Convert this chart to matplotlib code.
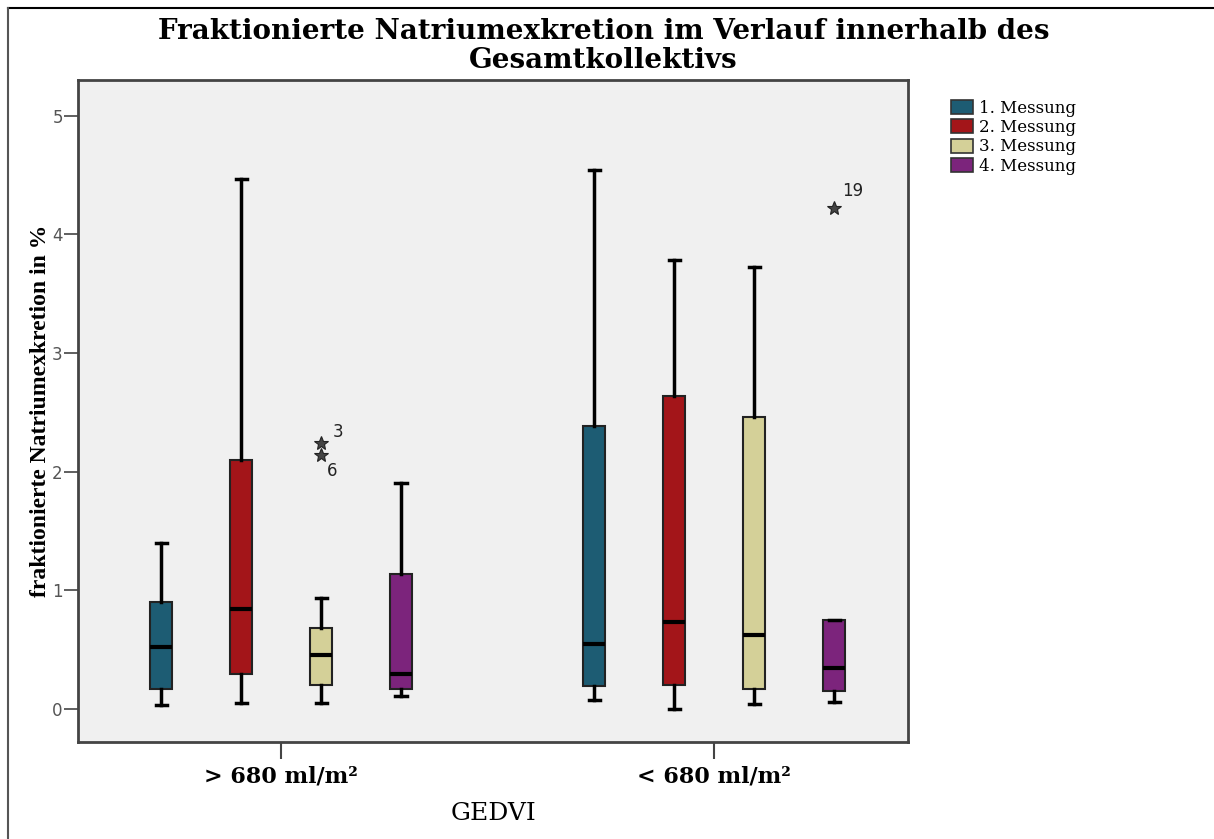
import matplotlib.pyplot as plt
from matplotlib.patches import Patch
from matplotlib.lines import Line2D

groups = ["> 680 ml/m²", "< 680 ml/m²"]
messungen = ["1. Messung", "2. Messung", "3. Messung", "4. Messung"]
colors = ["#1d5c73", "#a31519", "#d4d098", "#7c247c"]

# box statistics per group, one row per Messung: whislo, q1, med, q3, whishi
stats_gt = [
    [0.03, 0.17, 0.52, 0.90, 1.40],
    [0.05, 0.29, 0.84, 2.10, 4.47],
    [0.05, 0.20, 0.455, 0.68, 0.93],
    [0.11, 0.17, 0.29, 1.14, 1.90],
]
stats_lt = [
    [0.07, 0.19, 0.55, 2.38, 4.54],
    [0.00, 0.20, 0.73, 2.64, 3.78],
    [0.04, 0.17, 0.62, 2.46, 3.72],
    [0.06, 0.15, 0.34, 0.75, 0.75],
]
# extreme values with case numbers
outliers_gt = {2: [(2.24, "3"), (2.14, "6")]}
outliers_lt = {3: [(4.22, "19")]}

offsets = [-0.277, -0.0924, 0.0924, 0.277]
box_w = 0.051

fig = plt.figure(figsize=(12.14, 8.39), dpi=100)
ax = fig.add_axes([0.0643, 0.1156, 0.6837, 0.789])
ax.set_facecolor("#f0f0f0")

label_offsets = {"3": (17, 11), "6": (11, -16), "19": (19, 17)}

for g, (stats, outl) in enumerate([(stats_gt, outliers_gt), (stats_lt, outliers_lt)]):
    for i, s in enumerate(stats):
        fl = [v for v, _ in outl.get(i, [])]
        bs = dict(whislo=s[0], q1=s[1], med=s[2], q3=s[3], whishi=s[4], fliers=fl)
        pos = g + offsets[i]
        ax.bxp([bs], positions=[pos], widths=box_w, patch_artist=True,
               showfliers=True,
               boxprops=dict(facecolor=colors[i], edgecolor="#222222", linewidth=1.5),
               medianprops=dict(color="black", linewidth=3),
               whiskerprops=dict(color="black", linewidth=2.5),
               capprops=dict(color="black", linewidth=2.5),
               capwidths=box_w * 0.5,
               flierprops=dict(marker="*", markersize=10, markerfacecolor="#444444",
                               markeredgecolor="#222222", markeredgewidth=0.8,
                               linestyle="none"))
        for v, lab in outl.get(i, []):
            ax.annotate(lab, (pos, v), xytext=label_offsets[lab], textcoords="offset pixels",
                        ha="center", va="center", fontsize=12, color="#222222",
                        family="DejaVu Sans")

ax.set_xlim(-0.4688, 1.448)
ax.set_ylim(-0.28, 5.30)
ax.set_yticks(range(6))
ax.set_yticklabels([str(v) for v in range(6)], fontsize=12, color="#555555",
                   family="DejaVu Sans")
ax.set_xticks([0, 1])
ax.set_xticklabels(groups, fontsize=16, fontweight="bold", family="DejaVu Serif")
ax.tick_params(axis="y", length=10, width=1.2, color="#444444", pad=1)
ax.tick_params(axis="x", length=12, width=1.5, color="#444444", pad=5)
for sp in ax.spines.values():
    sp.set_color("#444444")
    sp.set_linewidth(2)

ax.set_ylabel("fraktionierte Natriumexkretion in %", fontsize=17, family="Liberation Serif",
              fontweight="bold", labelpad=1)
ax.set_xlabel("GEDVI", fontsize=18, family="DejaVu Serif", labelpad=10)

fig.text(0.497, 0.962, "Fraktionierte Natriumexkretion im Verlauf innerhalb des",
         ha="center", va="center", fontsize=20, fontweight="bold", family="DejaVu Serif")
fig.text(0.497, 0.928, "Gesamtkollektivs",
         ha="center", va="center", fontsize=20, fontweight="bold", family="DejaVu Serif")

handles = [Patch(facecolor=c, edgecolor="#333333", linewidth=1.2) for c in colors]
fig.legend(handles, messungen, loc="upper left", bbox_to_anchor=(0.771, 0.899),
           frameon=False, prop=dict(family="DejaVu Serif", size=12),
           handlelength=1.3, handleheight=0.9, labelspacing=0.14, handletextpad=0.4)

# frame lines along the top and left of the figure
fig.add_artist(Line2D([8 / 1214, 1.0], [1 - 8 / 839, 1 - 8 / 839], color="black", linewidth=1.5))
fig.add_artist(Line2D([8 / 1214, 8 / 1214], [0.0, 1 - 8 / 839], color="#555555", linewidth=1.5))

fig.savefig("out.png", dpi=100)
